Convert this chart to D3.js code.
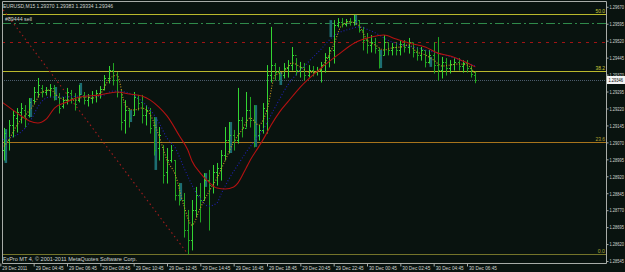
<!DOCTYPE html>
<html><head><meta charset="utf-8">
<script src="https://cdn.jsdelivr.net/npm/d3@7"></script>
<style>html,body{margin:0;padding:0;background:#09130f;overflow:hidden}</style>
</head><body>
<script>
// ---- data (EURUSD M15, bars indexed from 29 Dec 02:45) ----
const opens=[1.28992,1.29036,1.29080,1.29147,1.29178,1.29204,1.29213,1.29191,1.29257,1.29293,
1.29311,1.29293,1.29302,1.29311,1.29271,1.29231,1.29257,1.29288,1.29266,1.29257,
1.29280,1.29257,1.29266,1.29280,1.29288,1.29306,1.29355,1.29390,1.29346,1.29293,
1.29169,1.29213,1.29191,1.29266,1.29249,1.29191,1.29213,1.29147,1.29045,1.29050,
1.28939,1.28992,1.28992,1.28837,1.28815,1.28682,1.28638,1.28771,1.28837,1.28815,
1.28903,1.28881,1.28939,1.28957,1.29014,1.29080,1.29103,1.29080,1.29169,1.29134,
1.29213,1.29169,1.29103,1.29125,1.29213,1.29368,1.29412,1.29381,1.29368,1.29399,
1.29412,1.29457,1.29390,1.29404,1.29368,1.29390,1.29381,1.29390,1.29412,1.29448,
1.29479,1.29589,1.29603,1.29594,1.29607,1.29603,1.29611,1.29567,1.29523,1.29501,
1.29514,1.29479,1.29457,1.29514,1.29479,1.29492,1.29479,1.29505,1.29492,1.29514,
1.29470,1.29457,1.29479,1.29426,1.29457,1.29412,1.29390,1.29426,1.29399,1.29417,
1.29426,1.29408,1.29421,1.29399,1.29370];
const highs=[1.29089,1.29134,1.29169,1.29213,1.29222,1.29244,1.29235,1.29266,1.29315,1.29355,
1.29324,1.29315,1.29328,1.29324,1.29288,1.29271,1.29311,1.29302,1.29288,1.29324,
1.29293,1.29284,1.29297,1.29302,1.29319,1.29368,1.29408,1.29421,1.29381,1.29302,
1.29257,1.29222,1.29293,1.29280,1.29280,1.29235,1.29222,1.29182,1.29138,1.29058,
1.29045,1.29058,1.28992,1.28890,1.28846,1.28771,1.28815,1.28873,1.28890,1.28934,
1.28948,1.28970,1.28979,1.29036,1.29138,1.29160,1.29125,1.29311,1.29182,1.29293,
1.29271,1.29235,1.29147,1.29244,1.29412,1.29581,1.29421,1.29404,1.29421,1.29434,
1.29492,1.29443,1.29426,1.29421,1.29412,1.29408,1.29404,1.29426,1.29465,1.29492,
1.29611,1.29620,1.29620,1.29616,1.29620,1.29634,1.29611,1.29581,1.29554,1.29545,
1.29532,1.29488,1.29545,1.29510,1.29510,1.29514,1.29523,1.29523,1.29532,1.29510,
1.29492,1.29492,1.29479,1.29479,1.29514,1.29536,1.29448,1.29443,1.29434,1.29443,
1.29443,1.29434,1.29434,1.29412,1.29383];
const lows=[1.28979,1.28992,1.29036,1.29094,1.29116,1.29156,1.29138,1.29182,1.29244,1.29271,
1.29271,1.29280,1.29271,1.29257,1.29200,1.29222,1.29240,1.29244,1.29213,1.29249,
1.29240,1.29231,1.29244,1.29249,1.29266,1.29302,1.29333,1.29324,1.29271,1.29125,
1.29111,1.29138,1.29191,1.29213,1.29156,1.29147,1.29111,1.29014,1.28992,1.28890,
1.28890,1.28983,1.28815,1.28793,1.28651,1.28576,1.28594,1.28740,1.28718,1.28815,
1.28682,1.28846,1.28881,1.28903,1.28992,1.29023,1.29036,1.29067,1.29094,1.29138,
1.29138,1.29050,1.29080,1.29111,1.29111,1.29337,1.29346,1.29346,1.29355,1.29359,
1.29390,1.29368,1.29359,1.29346,1.29359,1.29364,1.29368,1.29337,1.29381,1.29404,
1.29421,1.29581,1.29581,1.29585,1.29589,1.29589,1.29558,1.29479,1.29465,1.29470,
1.29465,1.29399,1.29457,1.29457,1.29457,1.29457,1.29457,1.29470,1.29465,1.29448,
1.29434,1.29434,1.29404,1.29421,1.29377,1.29346,1.29355,1.29368,1.29377,1.29390,
1.29390,1.29381,1.29381,1.29359,1.29334];
const closes=[1.29058,1.29111,1.29147,1.29191,1.29204,1.29222,1.29178,1.29249,1.29293,1.29324,
1.29293,1.29302,1.29311,1.29280,1.29222,1.29257,1.29293,1.29266,1.29240,1.29284,
1.29257,1.29271,1.29280,1.29288,1.29306,1.29355,1.29390,1.29346,1.29293,1.29160,
1.29213,1.29178,1.29271,1.29244,1.29191,1.29213,1.29134,1.29036,1.29103,1.28926,
1.28992,1.29036,1.28837,1.28815,1.28682,1.28638,1.28771,1.28837,1.28815,1.28903,
1.28881,1.28939,1.28957,1.29014,1.29080,1.29103,1.29080,1.29169,1.29134,1.29213,
1.29169,1.29103,1.29125,1.29222,1.29368,1.29412,1.29381,1.29368,1.29399,1.29412,
1.29457,1.29390,1.29404,1.29368,1.29390,1.29381,1.29390,1.29412,1.29448,1.29479,
1.29589,1.29603,1.29594,1.29607,1.29603,1.29611,1.29567,1.29523,1.29501,1.29514,
1.29488,1.29457,1.29514,1.29479,1.29492,1.29479,1.29505,1.29492,1.29514,1.29470,
1.29457,1.29479,1.29426,1.29457,1.29412,1.29390,1.29426,1.29399,1.29417,1.29426,
1.29408,1.29421,1.29399,1.29373,1.29346];

// slow MA (red, solid) read points
const maSlowIdx=[0,2,5,7,9,11,13,16,19,24,28,31,34,36,38,40,43,45,46,48,50,52,54,56,57,59,60,62,63,65,67,69,72,77,81,85,89,92,95,98,102,105,108,111,114];
const maSlowVal=[1.29253,1.29227,1.29187,1.29165,1.29156,1.29173,1.29222,1.29249,1.29271,1.29280,1.29293,1.29284,1.29275,1.29257,1.29227,1.29187,1.29098,1.29036,1.28988,1.28934,1.28895,1.28868,1.28864,1.28873,1.28890,1.28957,1.28992,1.29050,1.29080,1.29147,1.29204,1.29249,1.29315,1.29399,1.29457,1.29510,1.29536,1.29545,1.29527,1.29510,1.29492,1.29465,1.29452,1.29430,1.29404];
// medium MA (blue, dotted)
const maMidIdx=[0,2,5,6,8,9,12,16,19,24,27,30,33,36,38,40,42,44,46,48,50,52,53,55,57,59,61,63,66,69,73,77,80,84,86,89,94,100,105,109,114];
const maMidVal=[1.29080,1.29089,1.29116,1.29134,1.29191,1.29227,1.29271,1.29271,1.29275,1.29275,1.29297,1.29293,1.29266,1.29213,1.29160,1.29089,1.29045,1.28961,1.28881,1.28819,1.28788,1.28802,1.28842,1.28912,1.28970,1.29027,1.29076,1.29125,1.29227,1.29324,1.29408,1.29483,1.29541,1.29572,1.29581,1.29563,1.29514,1.29488,1.29465,1.29443,1.29408];
// fast MA (orange, dotted)
const maFastIdx=[0,2,4,6,8,10,12,14,16,18,20,22,24,26,28,30,32,34,36,38,40,42,44,46,48,50,52,54,56,58,60,62,64,66,68,70,72,74,76,78,80,82,84,86,88,90,92,94,96,98,100,102,104,106,108,110,112,114];
const maFastVal=[1.29036,1.29080,1.29147,1.29191,1.29235,1.29293,1.29302,1.29271,1.29257,1.29257,1.29271,1.29266,1.29284,1.29346,1.29368,1.29235,1.29213,1.29222,1.29191,1.29103,1.28992,1.28926,1.28793,1.28704,1.28780,1.28850,1.28912,1.28992,1.29072,1.29125,1.29178,1.29147,1.29213,1.29368,1.29381,1.29421,1.29404,1.29381,1.29381,1.29426,1.29501,1.29589,1.29603,1.29589,1.29523,1.29501,1.29479,1.29488,1.29492,1.29501,1.29470,1.29457,1.29434,1.29408,1.29412,1.29417,1.29412,1.29373];
// teal boxes (higher-timeframe bodies)
const boxIdx=[1,7,13,19,31,37,43,49,55,61,67,79,85,91,103];
const boxTop=[1.29129,1.29266,1.29315,1.29333,1.29213,1.29182,1.28890,1.28934,1.29160,1.29235,1.29381,1.29611,1.29634,1.29479,1.29448];
const boxBot=[1.28979,1.29182,1.29257,1.29280,1.29160,1.28948,1.28815,1.28873,1.29023,1.29050,1.29324,1.29536,1.29589,1.29399,1.29404];

const fibLabels=["50.0","38.2","23.6","0.0"];
const fibPrices=[1.29638,1.29386,1.29071,1.28576];
const fibColors=["#b9b92c","#b9b92c","#a8741c","#74742a"];
const fibTextColors=["#c8c83a","#c8c83a","#b8a030","#a8a838"];
const fibLineIdx=[-41,45];
const fibLinePrice=[1.30673,1.28576];

const orderPrice=1.29597, stopPrice=1.29515, bidPrice=1.29346;
const orderLabel="#89444 sell";

const yTicks=[1.29670,1.29595,1.29520,1.29445,1.29370,1.29295,1.29220,1.29145,1.29070,1.28995,1.28920,1.28845,1.28770,1.28695,1.28620,1.28545];
const xTickIdx=[0,8,16,24,32,40,48,56,64,72,80,88,96,104,112];
const xTickLabels=["29 Dec 2011","29 Dec 04:45","29 Dec 06:45","29 Dec 08:45","29 Dec 10:45","29 Dec 12:45","29 Dec 14:45","29 Dec 16:45","29 Dec 18:45","29 Dec 20:45","29 Dec 22:45","30 Dec 00:45","30 Dec 02:45","30 Dec 04:45","30 Dec 06:45"];
const header="EURUSD,M15  1.29370 1.29383 1.29334 1.29346";
const footer="FxPro MT 4, \u00A9 2001-2011 MetaQuotes Software Corp.";

// ---- drawing ----
const W=625,H=272, L=2, R=606, T=1, B=263;
const bg="#09130f", axisCol="#a8aca8", txtCol="#d0d4d0";
const font="Liberation Sans, Arial, sans-serif";
const FS=5.6;
const svg=d3.select("body").append("svg").attr("width",W).attr("height",H)
  .style("display","block").style("background",bg);

const x=d3.scaleLinear().domain([0,114]).range([0.33,475.33]);
const y=d3.scaleLinear().domain([1.2853625,1.29700]).range([B,0]);

svg.append("defs").append("clipPath").attr("id","plot")
  .append("rect").attr("x",L).attr("y",T).attr("width",R-L).attr("height",B-T);
const g=svg.append("g").attr("clip-path","url(#plot)");

// horizontal lines
fibPrices.forEach((p,k)=>{
  g.append("line").attr("x1",L).attr("x2",R).attr("y1",Math.round(y(p))+0.5).attr("y2",Math.round(y(p))+0.5)
   .attr("stroke",fibColors[k]).attr("stroke-width",1);
});
g.append("line").attr("x1",L).attr("x2",R).attr("y1",Math.round(y(orderPrice))+0.5).attr("y2",Math.round(y(orderPrice))+0.5)
  .attr("stroke","#2f8a4a").attr("stroke-dasharray","9,3,2,3");
g.append("line").attr("x1",L).attr("x2",R).attr("y1",Math.round(y(stopPrice))+0.5).attr("y2",Math.round(y(stopPrice))+0.5)
  .attr("stroke","#a01414").attr("stroke-dasharray","3,5");
g.append("line").attr("x1",L).attr("x2",R).attr("y1",Math.round(y(bidPrice))+0.5).attr("y2",Math.round(y(bidPrice))+0.5)
  .attr("stroke","#4c5c6c").attr("stroke-dasharray","1,1");

// fib trend line
g.append("line").attr("x1",x(fibLineIdx[0])).attr("y1",y(fibLinePrice[0]))
  .attr("x2",x(fibLineIdx[1])).attr("y2",y(fibLinePrice[1]))
  .attr("stroke","#a01c1c").attr("stroke-width",1.1).attr("stroke-dasharray","1.5,3");

// teal boxes
g.selectAll("rect.box").data(boxIdx).join("rect").attr("class","box")
  .attr("x",d=>x(d)).attr("width",2.6)
  .attr("y",(d,k)=>y(boxTop[k])).attr("height",(d,k)=>y(boxBot[k])-y(boxTop[k]))
  .attr("fill","#1d6e72");

// bars
const bars=g.append("g");
opens.forEach((o,i)=>{
  const c=closes[i], col=c>=o?"#33d433":"#22a622";
  const cx=Math.round(x(i))+0.5;
  bars.append("line").attr("x1",cx).attr("x2",cx).attr("y1",y(highs[i])).attr("y2",y(lows[i])+0.5)
    .attr("stroke",col).attr("stroke-width",1);
  bars.append("line").attr("x1",cx-1.5).attr("x2",cx).attr("y1",Math.round(y(o))+0.5).attr("y2",Math.round(y(o))+0.5)
    .attr("stroke",col);
  bars.append("line").attr("x1",cx).attr("x2",cx+1.5).attr("y1",Math.round(y(c))+0.5).attr("y2",Math.round(y(c))+0.5)
    .attr("stroke",col);
});

// moving averages
const mk=(idx,val,curve)=>d3.line().x((d,k)=>x(idx[k])).y((d,k)=>y(val[k])).curve(curve)(val);
g.append("path").attr("d",mk(maFastIdx,maFastVal,d3.curveMonotoneX)).attr("fill","none")
  .attr("stroke","#c8961e").attr("stroke-width",1.1).attr("stroke-dasharray","1,1.6");
g.append("path").attr("d",mk(maMidIdx,maMidVal,d3.curveMonotoneX)).attr("fill","none")
  .attr("stroke","#2020b0").attr("stroke-width",1.1).attr("stroke-dasharray","1,2");
g.append("path").attr("d",mk(maSlowIdx,maSlowVal,d3.curveMonotoneX)).attr("fill","none")
  .attr("stroke","#b41212").attr("stroke-width",1.1);

// fib labels
fibPrices.forEach((p,k)=>{
  svg.append("text").attr("x",R-1).attr("y",y(p)-1.2).attr("text-anchor","end")
    .attr("font-family",font).attr("font-size",FS).attr("fill",fibTextColors[k])
    .attr("textLength",fibLabels[k].length*2.4).attr("lengthAdjust","spacingAndGlyphs")
    .text(fibLabels[k]);
});

// texts
svg.append("text").attr("x",3).attr("y",7.5).attr("font-family",font).attr("font-size",FS)
  .attr("textLength",110).attr("lengthAdjust","spacingAndGlyphs")
  .attr("fill",txtCol).text(header);
svg.append("text").attr("x",5).attr("y",y(orderPrice)-1.8).attr("font-family",font).attr("font-size",FS)
  .attr("textLength",27).attr("lengthAdjust","spacingAndGlyphs")
  .attr("fill",txtCol).text(orderLabel);
svg.append("text").attr("x",3).attr("y",261).attr("font-family",font).attr("font-size",FS)
  .attr("textLength",134).attr("lengthAdjust","spacingAndGlyphs")
  .attr("fill",txtCol).text(footer);

// borders
svg.append("path").attr("d",`M${L+0.5},${T+0.5}H${R+0.5}V${B+0.5}H${L+0.5}Z`)
  .attr("fill","none").attr("stroke",axisCol).attr("stroke-width",1);

// y axis (labels compressed horizontally so they fit the strip)
const ya=svg.append("g").attr("transform",`translate(${R+0.5},0)`)
  .call(d3.axisRight(y).tickValues(yTicks).tickFormat(d3.format(".5f")).tickSize(2).tickPadding(0));
ya.select(".domain").remove();
ya.selectAll("line").attr("stroke",axisCol);
ya.selectAll("text").attr("x",0).attr("transform","translate(3,0) scale(0.72,1)")
  .attr("font-family",font).attr("font-size",FS).attr("fill",txtCol);

// x axis
const xa=svg.append("g").attr("transform",`translate(0,${B+0.5})`)
  .call(d3.axisBottom(x).tickValues(xTickIdx).tickFormat((d,k)=>xTickLabels[k]).tickSize(3).tickPadding(1));
xa.select(".domain").remove();
xa.selectAll("line").attr("stroke",axisCol);
xa.selectAll("text").attr("font-family",font).attr("font-size",FS).attr("fill",txtCol)
  .attr("text-anchor","start").attr("dx",1.5).attr("dy","0.5em")
  .attr("textLength",(d,k)=>k===0?25:28).attr("lengthAdjust","spacingAndGlyphs");

// current price box
const by=y(bidPrice);
svg.append("rect").attr("x",R+1).attr("y",by-4).attr("width",W-R-1).attr("height",8).attr("fill","#f4f4f4");
svg.append("text").attr("x",0).attr("y",0).attr("dy","0.35em")
  .attr("transform",`translate(${R+2.5},${by}) scale(0.72,1)`)
  .attr("font-family",font).attr("font-size",FS)
  .attr("fill","#000").text(bidPrice.toFixed(5));
</script></body></html>
